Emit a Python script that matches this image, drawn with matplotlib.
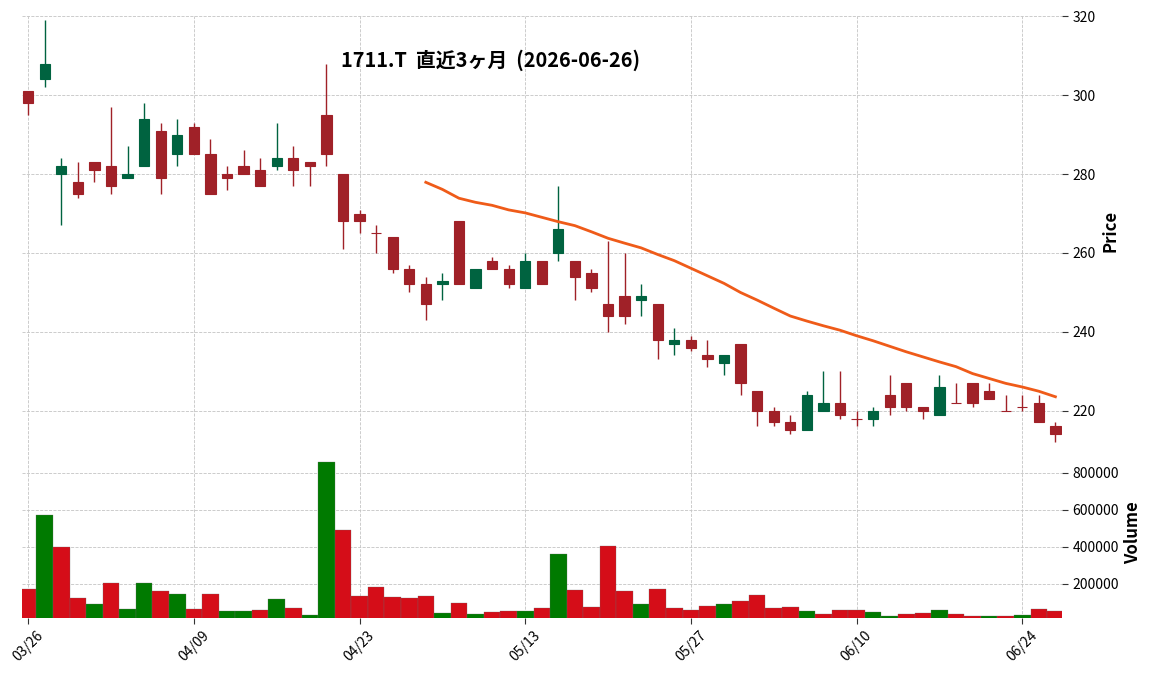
import pandas as pd
import matplotlib
matplotlib.use('Agg')
import matplotlib.pyplot as plt

plt.rcParams['font.family'] = ['Noto Sans CJK JP', 'DejaVu Sans']

# trading days shown (03/26 .. 06/26)
dates = ['03/26', '03/27', '03/30', '03/31', '04/01', '04/02', '04/03', '04/06', '04/07', '04/08',
         '04/09', '04/10', '04/13', '04/14', '04/15', '04/16', '04/17', '04/20', '04/21', '04/22',
         '04/23', '04/24', '04/27', '04/28', '04/30', '05/01', '05/07', '05/08', '05/11', '05/12',
         '05/13', '05/14', '05/15', '05/18', '05/19', '05/20', '05/21', '05/22', '05/25', '05/26',
         '05/27', '05/28', '05/29', '06/01', '06/02', '06/03', '06/04', '06/05', '06/08', '06/09',
         '06/10', '06/11', '06/12', '06/15', '06/16', '06/17', '06/18', '06/19', '06/22', '06/23',
         '06/24', '06/25', '06/26']

opens = [301, 304, 280, 278, 283, 282, 279, 282, 291, 285,
         292, 285, 280, 282, 281, 282, 284, 283, 295, 280,
         270, 265, 264, 256, 252, 252, 268, 251, 258, 256,
         251, 258, 260, 258, 255, 247, 249, 248, 247, 237,
         238, 234, 232, 237, 225, 220, 217, 215, 220, 222,
         218, 218, 224, 227, 221, 219, 222, 227, 225, 220,
         221, 222, 216]
highs = [301, 319, 284, 283, 283, 297, 287, 298, 293, 294,
         293, 289, 282, 286, 284, 293, 287, 283, 308, 280,
         271, 267, 264, 257, 254, 255, 268, 256, 259, 257,
         260, 258, 277, 258, 256, 263, 260, 252, 247, 241,
         239, 238, 234, 237, 225, 221, 219, 225, 230, 230,
         220, 221, 229, 227, 221, 229, 227, 227, 227, 224,
         224, 224, 217]
lows = [295, 302, 267, 274, 278, 275, 279, 282, 275, 282,
        285, 275, 276, 280, 277, 281, 277, 277, 282, 261,
        265, 260, 255, 250, 243, 248, 252, 251, 256, 251,
        251, 252, 258, 248, 250, 240, 242, 244, 233, 234,
        235, 231, 229, 224, 216, 216, 214, 215, 220, 218,
        216, 216, 219, 220, 218, 219, 222, 221, 223, 220,
        220, 217, 212]
closes = [298, 308, 282, 275, 281, 277, 280, 294, 279, 290,
          285, 275, 279, 280, 277, 284, 281, 282, 285, 268,
          268, 265, 256, 252, 247, 253, 252, 256, 256, 252,
          258, 252, 266, 254, 251, 244, 244, 249, 238, 238,
          236, 233, 234, 227, 220, 217, 215, 224, 222, 219,
          218, 220, 221, 221, 220, 226, 222, 222, 223, 220,
          221, 217, 214]
volumes = [169000, 569000, 396000, 121000, 88000, 202000, 61000, 202000, 158000, 142000,
           61000, 142000, 50000, 50000, 56000, 115000, 67000, 29000, 856000, 488000,
           131000, 180000, 126000, 121000, 131000, 40000, 94000, 34000, 45000, 50000,
           51000, 68000, 360000, 166000, 74000, 404000, 160000, 90000, 171000, 68000,
           58000, 79000, 90000, 106000, 139000, 68000, 74000, 52000, 36000, 58000,
           58000, 47000, 25000, 36000, 41000, 58000, 36000, 25000, 25000, 25000,
           31000, 63000, 52000]

up_c, down_c = '#006340', '#a02128'
vol_up, vol_down = '#007a00', '#d50d18'

df = pd.DataFrame({'Open': opens, 'High': highs, 'Low': lows, 'Close': closes, 'Volume': volumes})
x = list(range(len(df)))
ma25 = df['Close'].rolling(25).mean()

candle_cols = [up_c if o < c else down_c for o, c in zip(opens, closes)]
vol_cols = [vol_up if opens[0] < closes[0] else vol_down]
vol_cols += [vol_up if p < c else vol_down for p, c in zip(closes[:-1], closes[1:])]

fig = plt.figure(figsize=(11.52, 6.75), dpi=100)
ax = fig.add_axes([0.0187, 0.3385, 0.9032, 0.6378])
axv = fig.add_axes([0.0187, 0.0844, 0.9032, 0.2541], sharex=ax)

# candles
ax.vlines(x, df['Low'], df['High'], colors=candle_cols, linewidth=1.0, zorder=2)
body_lo = df[['Open', 'Close']].min(axis=1)
body_h = (df['Close'] - df['Open']).abs()
ax.bar(x, body_h, bottom=body_lo, width=0.62, color=candle_cols,
       edgecolor=candle_cols, linewidth=0.8, zorder=3)
ax.plot(x, ma25, color='#ef5b19', linewidth=2.0, zorder=4)

# volume
axv.bar(x, df['Volume'], width=1.0, color=vol_cols, edgecolor='#6a6a6a', linewidth=0.2)

for a in (ax, axv):
    for s in a.spines.values():
        s.set_visible(False)
    a.grid(True, linestyle='--', color='#c4c4c4', linewidth=0.6)
    a.set_axisbelow(True)
    a.yaxis.tick_right()
    a.yaxis.set_label_position('right')
    a.tick_params(axis='y', labelsize=10, length=4, color='#333333')

ax.set_xlim(-0.4, 62.4)
ax.set_ylim(210.9, 320.1)
ax.set_yticks([220, 240, 260, 280, 300, 320])
ax.tick_params(axis='x', labelbottom=False, length=0)
ax.set_ylabel('Price', fontsize=12, fontweight='bold')

axv.set_ylim(14500, 941000)
axv.set_yticks([200000, 400000, 600000, 800000])
axv.ticklabel_format(style='plain', axis='y', useOffset=False)
axv.set_xticks(x[::10])
axv.set_xticklabels(dates[::10], rotation=45, ha='center', fontsize=10)
axv.tick_params(axis='x', length=4, color='#333333')
axv.set_ylabel('Volume', fontsize=12, fontweight='bold')

fig.text(0.426, 0.911, '1711.T  直近3ヶ月  (2026-06-26)', ha='center', va='center',
         fontsize=14.3, fontweight='bold')

fig.savefig('out.png', dpi=100)
